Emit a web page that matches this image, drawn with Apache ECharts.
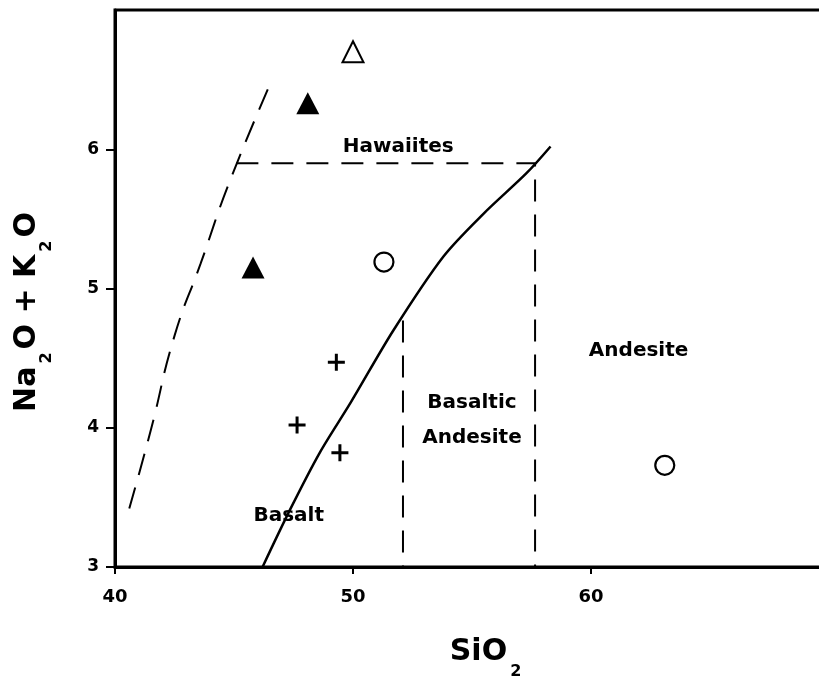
<!DOCTYPE html>
<html>
<head>
<meta charset="utf-8">
<script src="https://cdn.jsdelivr.net/npm/echarts@6/dist/echarts.min.js"></script>
<style>
html,body{margin:0;padding:0;background:#fff;}
#chart{width:819px;height:680px;}
</style>
</head>
<body>
<div id="chart"></div>
<script>
// ---- data (SiO2, Na2O+K2O) ----
var openTriangles = [[50.0, 6.70]];
var filledTriangles = [[48.1, 6.33], [45.8, 5.15]];
var openCircles = [[51.3, 5.19], [63.1, 3.73]];
var plusPoints = [[49.3, 4.47], [47.65, 4.02], [49.45, 3.82]];

var alkalineBoundary = [[40.6, 3.42], [41.5, 3.98], [42.5, 4.66], [43.6, 5.18], [44.8, 5.76], [46.6, 6.50]];
var subalkalineBoundary = [[46.2, 3.0], [47.35, 3.41], [48.6, 3.82], [49.9, 4.18], [51.7, 4.70], [53.8, 5.23], [55.5, 5.54], [57.3, 5.83], [58.3, 6.02]];
var hawaiiteBox = [[45.1, 5.90], [57.65, 5.90], [57.65, 3.0]];
var basalticAndesiteLeft = [[52.1, 4.77], [52.1, 3.0]];

var regionLabels = [
  {name: 'Hawaiites', value: [51.9, 6.02]},
  {name: 'Basaltic', value: [55.0, 4.18]},
  {name: 'Andesite', value: [55.0, 3.93]},
  {name: 'Andesite', value: [62.0, 4.55]},
  {name: 'Basalt', value: [47.3, 3.37]}
];

var xTicks = [40, 50, 60, 70];
var yTicks = [3, 4, 5, 6, 7];

var FONT = 'DejaVu Sans';
var chart = echarts.init(document.getElementById('chart'));

var richName = {
  a: {fontFamily: FONT, fontWeight: 'bold', fontSize: 30, lineHeight: 30, verticalAlign: 'top', color: '#000'},
  s: {fontFamily: FONT, fontWeight: 'bold', fontSize: 16, lineHeight: 43, verticalAlign: 'bottom', color: '#000', padding: [0, 3, 0, 3]}
};

function lineSeries(data, dashed, smooth, width) {
  return {
    type: 'line', data: data, symbol: 'none', smooth: smooth,
    lineStyle: {color: '#000', width: width, type: dashed ? [22, 13] : 'solid', opacity: 1},
    silent: true, z: 2
  };
}

chart.setOption({
  backgroundColor: '#fff',
  animation: false,
  grid: {left: 115, top: 10, width: 714, height: 557, containLabel: false, outerBoundsMode: 'none',
    show: true, borderColor: '#000', borderWidth: 3, backgroundColor: 'transparent'},
  xAxis: {
    type: 'value', min: xTicks[0], max: xTicks[xTicks.length - 1], interval: 10,
    splitLine: {show: false},
    axisLine: {lineStyle: {color: '#000', width: 3}},
    axisTick: {show: true, length: 7, lineStyle: {color: '#000', width: 2}},
    axisLabel: {margin: 21, color: '#000', fontFamily: FONT, fontWeight: 'bold', fontSize: 18, showMaxLabel: false},
    name: '{a|SiO}{s|2}',
    nameLocation: 'middle', nameGap: 70,
    nameTextStyle: {rich: richName, padding: [0, 0, 0, 30]}
  },
  yAxis: {
    type: 'value', min: yTicks[0], max: yTicks[yTicks.length - 1], interval: 1,
    splitLine: {show: false},
    axisLine: {lineStyle: {color: '#000', width: 3}},
    axisTick: {show: true, length: 9, lineStyle: {color: '#000', width: 2}},
    axisLabel: {margin: 16, color: '#000', fontFamily: FONT, fontWeight: 'bold', fontSize: 17, showMaxLabel: false},
    name: '{a|Na}{s|2}{a|O + K}{s|2}{a|O}',
    nameLocation: 'middle', nameGap: 60,
    nameTextStyle: {rich: richName, padding: [0, 47, 0, 0]}
  },
  series: [
    lineSeries(alkalineBoundary, true, 0.5, 2),
    lineSeries(subalkalineBoundary, false, 0.3, 2.5),
    lineSeries(hawaiiteBox, true, false, 2),
    lineSeries(basalticAndesiteLeft, true, false, 2),
    {
      type: 'scatter', data: regionLabels, symbolSize: 0, silent: true, z: 3,
      itemStyle: {opacity: 1},
      label: {show: true, position: 'inside', formatter: '{b}', color: '#000', fontFamily: FONT, fontWeight: 'bold', fontSize: 20}
    },
    {type: 'scatter', data: openTriangles, symbol: 'triangle', symbolSize: [21, 21], z: 5,
      itemStyle: {color: '#fff', borderColor: '#000', borderWidth: 2, opacity: 1}},
    {type: 'scatter', data: filledTriangles, symbol: 'triangle', symbolSize: [23, 22], z: 5,
      itemStyle: {color: '#000', borderWidth: 0, opacity: 1}},
    {type: 'scatter', data: openCircles, symbol: 'circle', symbolSize: 19, z: 5,
      itemStyle: {color: '#fff', borderColor: '#000', borderWidth: 2.2, opacity: 1}},
    {type: 'scatter', data: plusPoints, symbol: 'path://M7,0H10V7H17V10H10V17H7V10H0V7H7Z', symbolSize: 17, z: 5,
      itemStyle: {color: '#000', opacity: 1}}
  ]
});
</script>
</body>
</html>
